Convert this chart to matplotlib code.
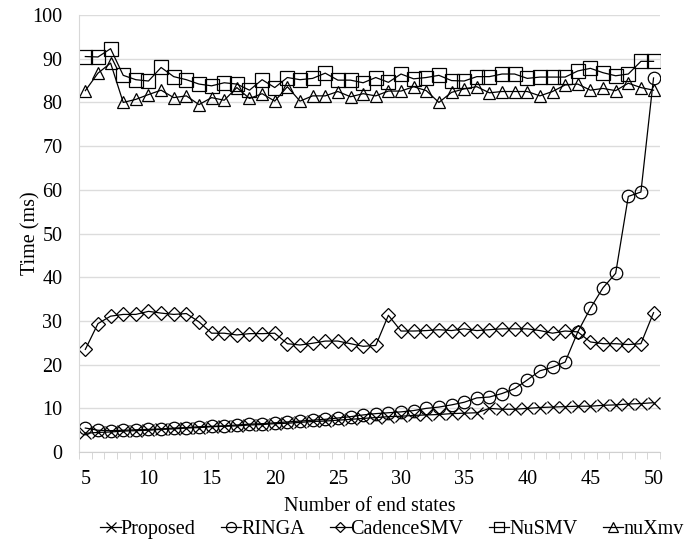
import matplotlib
matplotlib.use("Agg")
import matplotlib.pyplot as plt
import numpy as np

plt.rcParams['font.family'] = ['Liberation Serif', 'DejaVu Serif']

end_states = list(range(5, 51))

proposed = [4.3, 4.5, 4.6, 4.8, 4.9, 5.0, 5.2, 5.3, 5.5, 5.6, 5.8, 5.9, 6.0, 6.2, 6.3,
            6.5, 6.6, 6.8, 7.0, 7.1, 7.3, 7.5, 7.7, 7.9, 8.1, 8.2, 8.4, 8.5, 8.6, 8.8,
            8.9, 9.0, 10.0, 9.8, 9.8, 10.0, 10.2, 10.3, 10.4, 10.5, 10.5, 10.7, 10.8,
            11.0, 11.1, 11.3]

ringa = [5.5, 5.0, 4.9, 5.0, 5.1, 5.2, 5.3, 5.5, 5.6, 5.8, 5.9, 6.0, 6.2, 6.4, 6.5,
         6.7, 6.9, 7.1, 7.3, 7.5, 7.8, 8.1, 8.5, 8.8, 9.0, 9.2, 9.5, 10.0, 10.3, 10.8,
         11.4, 12.4, 12.6, 13.4, 14.5, 16.5, 18.6, 19.4, 20.6, 27.5, 32.9, 37.6, 40.9,
         58.5, 59.5, 85.6]

cadence = [23.5, 29.4, 31.1, 31.5, 31.5, 32.2, 31.8, 31.5, 31.7, 29.8, 27.2, 27.2, 26.8,
           27.1, 27.1, 27.2, 24.8, 24.5, 24.9, 25.4, 25.4, 24.8, 24.2, 24.4, 31.3, 27.7,
           27.7, 27.8, 28.0, 27.8, 28.2, 27.8, 28.0, 28.2, 28.2, 28.2, 27.8, 27.2, 27.7,
           27.5, 25.2, 24.8, 24.8, 24.6, 24.8, 31.9]

nusmv = [90.5, 90.4, 92.3, 86.2, 85.2, 84.9, 88.0, 85.9, 85.2, 84.2, 83.8, 84.5, 84.2,
         82.8, 85.2, 83.4, 85.7, 85.2, 85.5, 86.7, 85.1, 85.1, 84.5, 85.7, 84.6, 86.5,
         85.4, 85.7, 86.2, 85.0, 84.9, 85.9, 85.9, 86.5, 86.5, 85.5, 85.8, 85.8, 85.8,
         87.2, 87.8, 86.8, 86.1, 86.5, 89.4, 89.4]

nuxmv = [82.7, 86.7, 89.0, 80.0, 80.7, 81.8, 82.8, 81.1, 81.5, 79.5, 81.1, 80.5, 83.4,
         80.9, 82.0, 80.3, 83.6, 80.3, 81.5, 81.5, 82.5, 81.3, 82.0, 81.5, 82.6, 82.6,
         83.6, 82.7, 80.0, 82.3, 83.1, 83.6, 82.2, 82.5, 82.5, 82.5, 81.5, 82.5, 84.0,
         84.2, 82.8, 83.2, 82.7, 84.4, 83.4, 82.8]

series_names = ["Proposed", "RINGA", "CadenceSMV", "NuSMV", "nuXmv"]
series_vals = [proposed, ringa, cadence, nusmv, nuxmv]
markers = ["x", "o", "D", "s", "^"]
msizes = [9, 9, 7, 9.5, 9]

xtick_vals = [5, 10, 15, 20, 25, 30, 35, 40, 45, 50]
ytick_vals = [0, 10, 20, 30, 40, 50, 60, 70, 80, 90, 100]

fig = plt.figure(figsize=(6.89, 5.46), dpi=100)
ax = fig.add_axes([0.1147, 0.172, 0.843, 0.8005])

for name, vals, m, ms in zip(series_names, series_vals, markers, msizes):
    ax.plot(end_states, vals, color="black", linewidth=0.9, marker=m, markersize=ms,
            markerfacecolor="none", markeredgecolor="black", markeredgewidth=0.9,
            label=name)

ax.set_xlim(4.5, 50.5)
ax.set_ylim(0, 100)
ax.set_xticks(xtick_vals)
ax.set_xticks(np.arange(4.5, 51, 1.0), minor=True)
ax.set_yticks(ytick_vals)
ax.tick_params(axis='x', which='major', length=0, labelsize=14.5, pad=13)
ax.tick_params(axis='x', which='minor', length=5, color="#d0d0d0", direction="out")
ax.tick_params(axis='y', length=0, labelsize=14.5, pad=12)

ax.grid(axis='y', color="#dcdcdc", linewidth=1.0)
ax.set_axisbelow(True)
for s in ["top", "right"]:
    ax.spines[s].set_visible(False)
ax.spines["left"].set_color("#d8d8d8")
ax.spines["bottom"].set_color("#d0d0d0")

ax.set_xlabel("Number of end states", fontsize=14.5, labelpad=6)
ax.set_ylabel("Time (ms)", fontsize=14.5, labelpad=-6)

fig.legend(loc="center", bbox_to_anchor=(0.569, 0.030), ncol=5, frameon=False,
           fontsize=14.5, handlelength=1.0, handletextpad=0.0, columnspacing=1.27,
           markerscale=0.8, borderaxespad=0, borderpad=0)

fig.savefig("out.png", dpi=100)
